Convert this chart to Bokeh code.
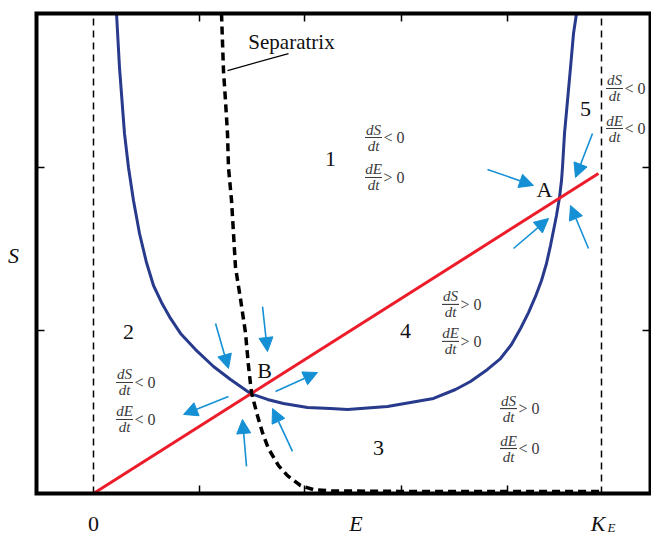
from bokeh.plotting import figure
from bokeh.models import ColumnDataSource, Arrow, NormalHead, Range1d
from bokeh.core.properties import value
from bokeh.embed import file_html
from bokeh.resources import INLINE

SERIF = value("Liberation Serif")
W, H = 651, 536

# visible canvas in data units (E in units of K_E, S in arbitrary units)
X_RANGE = (-0.18307, 1.09843)
Y_RANGE = (-0.26380, 3.02454)

# the boxed phase plane
E_MIN, E_MAX = -0.1122, 1.0965
S_MIN, S_MAX = 0.0, 2.9448

x_ticks = [0.2087, 0.4154, 0.6063, 0.8150]
y_ticks = [1.0, 2.0]
TICK_PX = 8

# dS/dt = 0 nullcline (U-shaped curve)
null_E = [0.0453, 0.0512, 0.0610, 0.0689, 0.0787, 0.0906, 0.1043, 0.1181, 0.1339,
          0.1516, 0.1713, 0.2008, 0.2362, 0.2697, 0.3091, 0.3425, 0.3740, 0.4213,
          0.4665, 0.5000, 0.5787, 0.6693, 0.7126, 0.7421, 0.7756, 0.8012, 0.8228,
          0.8406, 0.8563, 0.8701, 0.8819, 0.8917, 0.8996, 0.9075, 0.9114, 0.9173,
          0.9213, 0.9232, 0.9272, 0.9331, 0.9390, 0.9449, 0.9508]
null_S = [2.945, 2.613, 2.209, 2.000, 1.798, 1.595, 1.417, 1.276, 1.172,
          1.074, 0.982, 0.883, 0.779, 0.699, 0.613, 0.577, 0.552, 0.528,
          0.521, 0.515, 0.534, 0.583, 0.638, 0.687, 0.761, 0.828, 0.914,
          1.012, 1.110, 1.209, 1.307, 1.411, 1.521, 1.644, 1.706, 1.816,
          1.920, 2.000, 2.209, 2.411, 2.613, 2.822, 2.945]

# dE/dt = 0 nullcline (straight line through the origin)
line_E = [0.0, 0.994]
line_S = [0.0, 1.963]

# separatrix between the two basins
sep_E = [0.2520, 0.2559, 0.2598, 0.2638, 0.2657, 0.2717, 0.2756, 0.2795,
         0.2894, 0.2992, 0.3051, 0.3110, 0.3228, 0.3327, 0.3445, 0.3642, 0.3819,
         0.4075, 0.4331, 0.4665, 0.6000, 1.0000]
sep_S = [2.945, 2.593, 2.410, 2.208, 2.000, 1.798, 1.596, 1.388,
         1.193, 0.985, 0.783, 0.618, 0.477, 0.373, 0.275, 0.171, 0.110,
         0.049, 0.024, 0.016, 0.013, 0.012]

# E = 0 and E = K_E
bound_E = [0.0, 1.0]

# region numbers
region_txt = ["1", "2", "3", "4", "5"]
region_E = [0.4665, 0.0689, 0.5610, 0.6142, 0.9685]
region_S = [2.055, 0.988, 0.282, 0.994, 2.356]

# equilibria
eq_txt = ["A", "B"]
eq_E = [0.8878, 0.3366]
eq_S = [1.865, 0.755]

# sign of the derivatives in each region
frac_num = ["dS", "dE", "dS", "dE", "dS", "dE", "dS", "dE", "dS", "dE"]
frac_rel = ["< 0", "> 0", "< 0", "< 0", "> 0", "< 0", "> 0", "> 0", "< 0", "< 0"]
frac_E = [0.5512, 0.5512, 0.0610, 0.0610, 0.8169, 0.8169, 0.7028, 0.7028, 1.0256, 1.0256]
frac_S = [2.184, 1.939, 0.681, 0.454, 0.521, 0.276, 1.160, 0.933, 2.485, 2.239]

# flow arrows around the equilibria
arr_E0 = [0.7756, 0.9823, 0.8268, 0.9744, 0.2402, 0.3327, 0.3583, 0.2657, 0.3012, 0.3917]
arr_S0 = [1.988, 2.209, 1.503, 1.503, 1.043, 1.147, 0.626, 0.595, 0.166, 0.258]
arr_E1 = [0.8661, 0.9488, 0.8957, 0.9390, 0.2657, 0.3425, 0.4409, 0.1772, 0.2933, 0.3524]
arr_S1 = [1.890, 1.939, 1.687, 1.767, 0.767, 0.871, 0.742, 0.485, 0.454, 0.521]

# separatrix caption and its leader
sep_label_E, sep_label_S = 0.3898, 2.767
leader_E = [0.2638, 0.3839]
leader_S = [2.595, 2.699]

# axis captions
xcap_txt = ["0", "E", "K"]
xcap_E = [0.0, 0.5167, 0.9932]
xcap_S = -0.1871
xsub_E, xsub_S = 1.0118, -0.2086
ycap_E, ycap_S = -0.1575, 1.460

BLUE = "#283a8c"
RED = "#ec1c2a"
CYAN = "#1590d5"
GREY = "#3a3a3a"
INK = "#111111"

p = figure(width=W, height=H, output_backend="svg", toolbar_location=None,
           x_range=Range1d(*X_RANGE), y_range=Range1d(*Y_RANGE),
           min_border=0, background_fill_color="white", border_fill_color="white")
p.axis.visible = False
p.grid.visible = False
p.outline_line_color = None

e_per_px = (X_RANGE[1] - X_RANGE[0]) / W
s_per_px = (Y_RANGE[1] - Y_RANGE[0]) / H
tick_E = TICK_PX * e_per_px
tick_S = TICK_PX * s_per_px

# boundary lines E = 0 and E = K_E
p.segment(x0=bound_E, x1=bound_E, y0=[S_MIN] * 2, y1=[S_MAX] * 2,
          line_color="black", line_width=1.5, line_dash="7 5")

# curves
p.line(null_E, null_S, line_color=BLUE, line_width=3, line_join="round")
p.line(line_E, line_S, line_color=RED, line_width=3)
p.line(sep_E, sep_S, line_color="black", line_width=3.5, line_dash="8 5")
p.line(leader_E, leader_S, line_color="black", line_width=1.3)

# arrows
arrows = ColumnDataSource(dict(x0=arr_E0, y0=arr_S0, x1=arr_E1, y1=arr_S1))
p.add_layout(Arrow(x_start="x0", y_start="y0", x_end="x1", y_end="y1", source=arrows,
                   line_color=CYAN, line_width=1.6,
                   end=NormalHead(size=14, fill_color=CYAN, line_color=CYAN,
                                  line_width=1)))

# box and inward ticks
p.quad(left=[E_MIN], right=[E_MAX], bottom=[S_MIN], top=[S_MAX], fill_color=None,
       line_color="black", line_width=4, line_join="miter")
n = len(x_ticks)
p.segment(x0=x_ticks * 2, x1=x_ticks * 2,
          y0=[S_MIN] * n + [S_MAX] * n,
          y1=[S_MIN + tick_S] * n + [S_MAX - tick_S] * n,
          line_color="black", line_width=1.5)
m = len(y_ticks)
p.segment(x0=[E_MIN] * m + [E_MAX] * m,
          x1=[E_MIN + tick_E] * m + [E_MAX - tick_E] * m,
          y0=y_ticks * 2, y1=y_ticks * 2, line_color="black", line_width=1.5)

# labels inside the box
p.text(x=region_E, y=region_S, text=region_txt, text_font=SERIF,
       text_font_size="22px", text_align="center", text_baseline="middle",
       text_color=INK)
p.text(x=eq_E, y=eq_S, text=eq_txt, text_font=SERIF, text_font_size="22px",
       text_align="center", text_baseline="middle", text_color=INK)
p.text(x=[sep_label_E], y=[sep_label_S], text=["Separatrix"], text_font=SERIF,
       text_font_size="21px", text_align="center", text_baseline="middle",
       text_color=INK)

fr = ColumnDataSource(dict(x=frac_E, y=frac_S, num=frac_num,
                           den=["dt"] * len(frac_num), rel=frac_rel))
p.scatter(x="x", y="y", source=fr, marker="dash", size=17, line_color=GREY,
          line_width=1.1)
p.text(x="x", y="y", text="num", source=fr, text_font=SERIF,
       text_font_style="italic", text_font_size="15px", text_align="center",
       text_baseline="bottom", text_color=GREY)
p.text(x="x", y="y", text="den", source=fr, text_font=SERIF,
       text_font_style="italic", text_font_size="15px", text_align="center",
       text_baseline="top", text_color=GREY)
p.text(x="x", y="y", text="rel", source=fr, text_font=SERIF,
       text_font_size="16px", text_align="left", text_baseline="middle",
       x_offset=10, text_color=GREY)

# axis captions
p.text(x=xcap_E[:1], y=[xcap_S], text=xcap_txt[:1], text_font=SERIF,
       text_font_size="22px", text_align="center", text_baseline="middle",
       text_color=INK)
p.text(x=xcap_E[1:], y=[xcap_S] * 2, text=xcap_txt[1:], text_font=SERIF,
       text_font_style="italic", text_font_size="22px", text_align="center",
       text_baseline="middle", text_color=INK)
p.text(x=[xsub_E], y=[xsub_S], text=["E"], text_font=SERIF,
       text_font_style="italic", text_font_size="13px", text_align="left",
       text_baseline="middle", text_color=INK)
p.text(x=[ycap_E], y=[ycap_S], text=["S"], text_font=SERIF,
       text_font_style="italic", text_font_size="22px", text_align="center",
       text_baseline="middle", text_color=INK)

open("out.html", "w").write(file_html(p, INLINE))
